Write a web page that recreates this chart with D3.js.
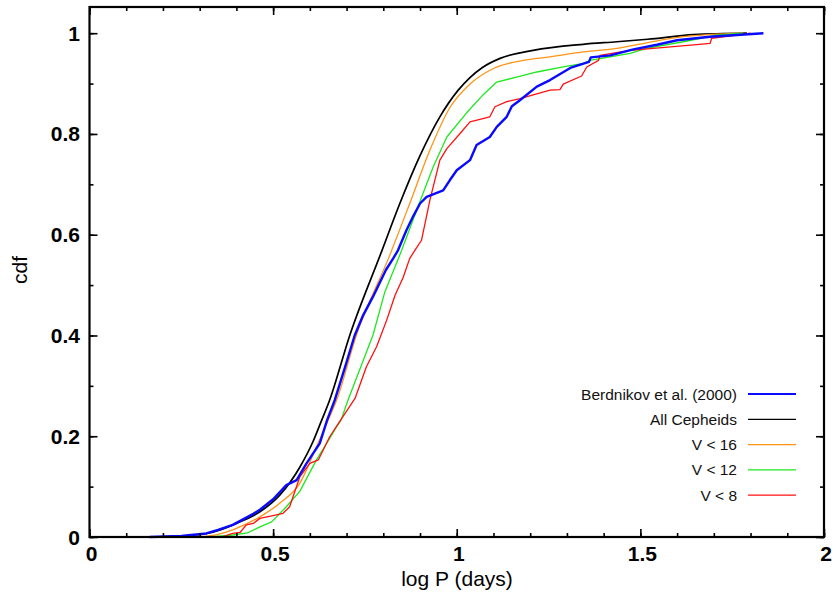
<!DOCTYPE html>
<html><head><meta charset="utf-8">
<script src="https://cdn.jsdelivr.net/npm/d3@7"></script>
<style>body{margin:0;background:#fff}svg{display:block}</style>
</head><body>
<svg id="c" width="834" height="595"></svg>
<script>
// ---- data (log P, cdf) ----
const seriesNames = ["Berdnikov et al. (2000)", "All Cepheids", "V < 16", "V < 12", "V < 8"];
const seriesColors = ["#0a0aff", "#000000", "#ff9314", "#1ee81e", "#ff1010"];
const seriesWidths = [2.4, 1.7, 1.3, 1.3, 1.3];

const berdnikov = [[0.164,0],[0.25,0.002],[0.318,0.007],[0.35,0.014],[0.39,0.024],[0.446,0.046],[0.464,0.054],[0.5,0.075],[0.536,0.103],[0.564,0.113],[0.591,0.146],[0.627,0.186],[0.647,0.232],[0.668,0.272],[0.695,0.335],[0.722,0.40],[0.745,0.44],[0.772,0.477],[0.807,0.53],[0.827,0.553],[0.84,0.569],[0.863,0.609],[0.881,0.636],[0.90,0.662],[0.918,0.675],[0.963,0.688],[0.981,0.708],[1.0,0.728],[1.036,0.748],[1.054,0.778],[1.09,0.794],[1.109,0.814],[1.136,0.834],[1.15,0.855],[1.172,0.867],[1.218,0.894],[1.254,0.907],[1.309,0.931],[1.36,0.943],[1.365,0.952],[1.418,0.956],[1.481,0.968],[1.545,0.977],[1.60,0.986],[1.69,0.993],[1.835,1.0]];
const allCepheids = [[0.16,0],[0.25,0.002],[0.32,0.007],[0.36,0.015],[0.40,0.027],[0.464,0.050],[0.518,0.083],[0.573,0.139],[0.609,0.19],[0.629,0.226],[0.654,0.272],[0.709,0.401],[0.795,0.566],[0.845,0.662],[0.90,0.757],[0.954,0.834],[1.004,0.887],[1.036,0.912],[1.07,0.932],[1.118,0.95],[1.208,0.966],[1.344,0.978],[1.436,0.983],[1.52,0.988],[1.645,0.997],[1.79,1.0]];
const v16 = [[0.30,0],[0.35,0.005],[0.39,0.014],[0.464,0.04],[0.518,0.067],[0.573,0.107],[0.618,0.179],[0.65,0.232],[0.673,0.272],[0.727,0.401],[0.818,0.56],[0.872,0.662],[0.927,0.768],[0.981,0.852],[1.036,0.899],[1.10,0.93],[1.181,0.946],[1.254,0.953],[1.345,0.963],[1.436,0.97],[1.517,0.981],[1.617,0.993],[1.78,1.0]];
const v12 = [[0.33,0],[0.39,0.004],[0.43,0.008],[0.464,0.02],[0.496,0.03],[0.536,0.06],[0.573,0.091],[0.618,0.153],[0.645,0.185],[0.673,0.219],[0.685,0.232],[0.704,0.272],[0.772,0.401],[0.804,0.486],[0.85,0.569],[0.891,0.649],[0.936,0.735],[0.973,0.794],[1.027,0.842],[1.072,0.878],[1.109,0.903],[1.163,0.913],[1.218,0.923],[1.29,0.933],[1.345,0.94],[1.363,0.946],[1.472,0.96],[1.517,0.97],[1.617,0.983],[1.708,0.996],[1.78,1.0]];
const v8 = [[0.36,0],[0.39,0.007],[0.41,0.009],[0.427,0.024],[0.446,0.027],[0.464,0.037],[0.509,0.044],[0.527,0.047],[0.545,0.06],[0.573,0.12],[0.60,0.146],[0.623,0.153],[0.654,0.199],[0.69,0.239],[0.723,0.275],[0.754,0.338],[0.782,0.378],[0.809,0.43],[0.832,0.48],[0.854,0.515],[0.872,0.553],[0.886,0.569],[0.904,0.589],[0.927,0.669],[0.954,0.748],[0.973,0.771],[1.009,0.801],[1.036,0.824],[1.09,0.834],[1.104,0.854],[1.136,0.864],[1.172,0.870],[1.254,0.887],[1.281,0.888],[1.29,0.899],[1.34,0.915],[1.354,0.933],[1.386,0.946],[1.39,0.956],[1.472,0.966],[1.645,0.977],[1.69,0.98],[1.694,0.99],[1.763,0.996],[1.80,1.0]];
const seriesData = [berdnikov, allCepheids, v16, v12, v8];
const seriesSmooth = [false, true, true, false, false];

const xTicks = [0, 0.5, 1, 1.5, 2];
const xTickLabels = ["0", "0.5", "1", "1.5", "2"];
const yTicks = [0, 0.2, 0.4, 0.6, 0.8, 1];
const yTickLabels = ["0", "0.2", "0.4", "0.6", "0.8", "1"];
const xMinor = d3.range(0, 2.001, 0.1);
const yMinor = d3.range(0, 1.001, 0.1);

// ---- layout ----
const L = 89.5, R = 824, T = 7, B = 537;
const x = d3.scaleLinear().domain([0, 2]).range([L, R]);
const y = d3.scaleLinear().domain([0, 1.052]).range([B, T]);
const svg = d3.select("#c");
const font = "'Liberation Sans', Arial, sans-serif";

const plot = svg.append("g");
const lineLin = d3.line().x(d => x(d[0])).y(d => y(d[1]));
const lineSm = d3.line().x(d => x(d[0])).y(d => y(d[1])).curve(d3.curveMonotoneX);
const order = [1, 2, 3, 4, 0];
order.forEach(i => {
  plot.append("path").datum(seriesData[i])
    .attr("fill", "none").attr("stroke", seriesColors[i])
    .attr("stroke-width", seriesWidths[i]).attr("stroke-linejoin", "round")
    .attr("d", seriesSmooth[i] ? lineSm : lineLin);
});

// ---- axes (ticks inside on all four sides) ----
const major = 8, minor = 4;
const axB = d3.axisTop(x).tickValues(xMinor).tickSize(minor).tickFormat("");
const axBMaj = d3.axisTop(x).tickValues(xTicks).tickSize(major).tickFormat("");
const axT = d3.axisBottom(x).tickValues(xMinor).tickSize(minor).tickFormat("");
const axTMaj = d3.axisBottom(x).tickValues(xTicks).tickSize(major).tickFormat("");
const axL = d3.axisRight(y).tickValues(yMinor).tickSize(minor).tickFormat("");
const axLMaj = d3.axisRight(y).tickValues(yTicks).tickSize(major).tickFormat("");
const axR = d3.axisLeft(y).tickValues(yMinor).tickSize(minor).tickFormat("");
const axRMaj = d3.axisLeft(y).tickValues(yTicks).tickSize(major).tickFormat("");
[[axB, `translate(0,${B})`],[axBMaj, `translate(0,${B})`],[axT, `translate(0,${T})`],[axTMaj, `translate(0,${T})`],
 [axL, `translate(${L},0)`],[axLMaj, `translate(${L},0)`],[axR, `translate(${R},0)`],[axRMaj, `translate(${R},0)`]]
 .forEach(([a, t]) => {
   const g = svg.append("g").attr("transform", t).call(a);
   g.select(".domain").remove();
   g.selectAll("line").attr("stroke", "#000").attr("stroke-width", 1.6);
 });
svg.append("rect").attr("x", L).attr("y", T).attr("width", R - L).attr("height", B - T)
  .attr("fill", "none").attr("stroke", "#000").attr("stroke-width", 2.2);

// tick labels
svg.append("g").selectAll("text").data(xTicks).join("text")
  .attr("x", d => x(d) + 2).attr("y", 561).attr("text-anchor", "middle")
  .attr("font-family", font).attr("font-size", 21).attr("font-weight", "bold")
  .text((d, i) => xTickLabels[i]);
svg.append("g").selectAll("text").data(yTicks).join("text")
  .attr("x", 80).attr("y", d => y(d) + 7.5).attr("text-anchor", "end")
  .attr("font-family", font).attr("font-size", 21).attr("font-weight", "bold")
  .text((d, i) => yTickLabels[i]);

// axis titles
svg.append("text").attr("x", 457).attr("y", 586).attr("text-anchor", "middle")
  .attr("font-family", font).attr("font-size", 21).text("log P (days)");
svg.append("text").attr("transform", "translate(27,270) rotate(-90)").attr("text-anchor", "middle")
  .attr("font-family", font).attr("font-size", 21).text("cdf");

// legend
const lg = svg.append("g");
seriesNames.forEach((n, i) => {
  const yy = 394 + i * 25.3;
  lg.append("text").attr("x", 737).attr("y", yy + 5.5).attr("text-anchor", "end")
    .attr("font-family", font).attr("font-size", 15.5).attr("fill", "#111").text(n);
  lg.append("line").attr("x1", 748).attr("x2", 796).attr("y1", yy).attr("y2", yy)
    .attr("stroke", seriesColors[i]).attr("stroke-width", i === 0 ? 2.2 : 1.3);
});
</script>
</body></html>
